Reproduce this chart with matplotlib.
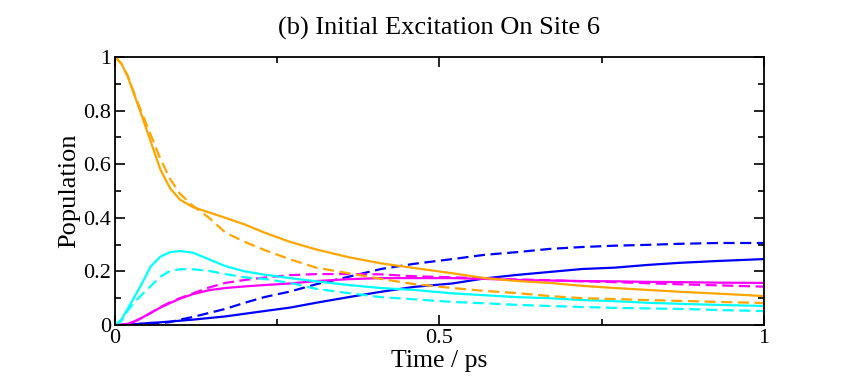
import matplotlib
matplotlib.use("Agg")
import matplotlib.pyplot as plt
from matplotlib.ticker import MultipleLocator

plt.rcParams['font.family'] = ['Liberation Serif', 'DejaVu Serif']

# time grid (ps)
time = [0, 0.01, 0.02, 0.03, 0.04, 0.055, 0.07, 0.085, 0.1, 0.12, 0.145, 0.17, 0.2, 0.23, 0.27,
        0.31, 0.36, 0.41, 0.46, 0.52, 0.57, 0.62, 0.67, 0.72, 0.77, 0.82, 0.87, 0.93, 1.0]

# site 6 (orange)
orange_solid = [1.0, 0.975, 0.925, 0.857, 0.79, 0.685, 0.58, 0.51, 0.468, 0.44, 0.42, 0.40, 0.375, 0.345, 0.31,
                0.282, 0.253, 0.23, 0.213, 0.193, 0.175, 0.164, 0.157, 0.146, 0.138, 0.131, 0.124, 0.117, 0.108]
orange_dash = [1.0, 0.975, 0.928, 0.862, 0.80, 0.71, 0.62, 0.545, 0.49, 0.445, 0.40, 0.345, 0.31, 0.28, 0.245,
               0.214, 0.193, 0.172, 0.153, 0.138, 0.127, 0.119, 0.108, 0.10, 0.097, 0.093, 0.09, 0.086, 0.082]
# cyan
cyan_solid = [0.0, 0.02, 0.062, 0.105, 0.148, 0.218, 0.255, 0.272, 0.276, 0.27, 0.245, 0.22, 0.2, 0.188, 0.175,
              0.163, 0.149, 0.138, 0.131, 0.118, 0.111, 0.104, 0.10, 0.093, 0.089, 0.083, 0.079, 0.075, 0.071]
cyan_dash = [0.0, 0.016, 0.055, 0.085, 0.11, 0.145, 0.18, 0.202, 0.208, 0.208, 0.202, 0.19, 0.178, 0.172, 0.157,
             0.135, 0.119, 0.104, 0.096, 0.086, 0.081, 0.075, 0.071, 0.067, 0.064, 0.062, 0.06, 0.056, 0.052]
# magenta
magenta_solid = [0.0, 0.001, 0.005, 0.013, 0.025, 0.045, 0.065, 0.082, 0.098, 0.115, 0.13, 0.138, 0.144, 0.149, 0.155,
                 0.164, 0.171, 0.175, 0.175, 0.175, 0.172, 0.168, 0.166, 0.164, 0.163, 0.161, 0.16, 0.158, 0.157]
magenta_dash = [0.0, 0.001, 0.005, 0.013, 0.025, 0.045, 0.067, 0.085, 0.1, 0.118, 0.14, 0.157, 0.168, 0.177, 0.186,
                0.19, 0.19, 0.189, 0.182, 0.178, 0.174, 0.17, 0.167, 0.163, 0.16, 0.156, 0.152, 0.148, 0.143]
# blue
blue_solid = [0.0, 0.0, 0.001, 0.003, 0.005, 0.008, 0.01, 0.013, 0.016, 0.02, 0.026, 0.032, 0.042, 0.052, 0.065,
              0.083, 0.104, 0.124, 0.142, 0.155, 0.174, 0.187, 0.198, 0.209, 0.214, 0.224, 0.232, 0.239, 0.246]
blue_dash = [0.0, 0.0, 0.001, 0.002, 0.004, 0.006, 0.007, 0.011, 0.02, 0.03, 0.045, 0.06, 0.083, 0.104, 0.125,
             0.152, 0.18, 0.209, 0.228, 0.246, 0.262, 0.272, 0.284, 0.291, 0.296, 0.299, 0.303, 0.306, 0.306]

fig = plt.figure(figsize=(8.41, 3.82), dpi=100)
ax = fig.add_axes([0.1367, 0.1492, 0.7717, 0.7016])

lw = 1.6
dash = (0, (5, 2.5))
ax.plot(time, blue_solid, color='#0000ff', lw=lw)
ax.plot(time, blue_dash, color='#0000ff', lw=lw, linestyle=dash)
ax.plot(time, magenta_solid, color='#ff00ff', lw=lw)
ax.plot(time, magenta_dash, color='#ff00ff', lw=lw, linestyle=dash)
ax.plot(time, cyan_solid, color='#00ffff', lw=lw)
ax.plot(time, cyan_dash, color='#00ffff', lw=lw, linestyle=dash)
ax.plot(time, orange_solid, color='#ffa500', lw=lw)
ax.plot(time, orange_dash, color='#ffa500', lw=lw, linestyle=dash)

ax.set_xlim(0, 1)
ax.set_ylim(0, 1)
ax.xaxis.set_minor_locator(MultipleLocator(0.25))
ax.yaxis.set_minor_locator(MultipleLocator(0.1))
ax.set_xticks([0, 0.5, 1])
ax.set_xticklabels(['0', '0.5', '1'])
ax.set_yticks([0, 0.2, 0.4, 0.6, 0.8, 1.0])
ax.set_yticklabels(['0', '0.2', '0.4', '0.6', '0.8', '1'])
ax.tick_params(which='both', direction='in', top=True, right=True, width=1.2, labelsize=16, pad=3)
ax.tick_params(which='major', length=7)
ax.tick_params(which='minor', length=4)
for s in ax.spines.values():
    s.set_linewidth(1.3)

ax.set_xlabel('Time / ps', fontsize=18.5, labelpad=1)
ax.set_ylabel('Population', fontsize=19, labelpad=2)
ax.set_title('(b) Initial Excitation On Site 6', fontsize=19, pad=16)

fig.savefig('out.png', dpi=100)
